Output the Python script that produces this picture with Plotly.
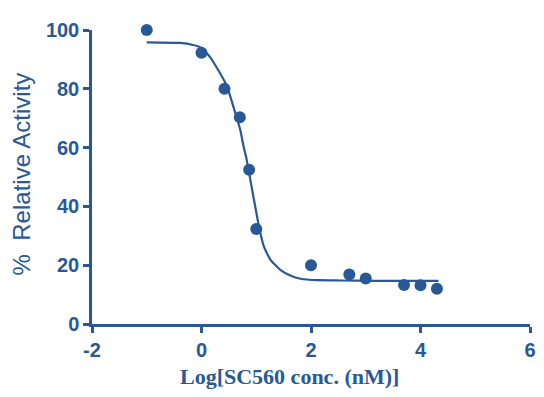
import plotly.graph_objects as go

# measured data points
log_conc = [-1.0, 0.0, 0.42, 0.70, 0.87, 1.0, 2.0, 2.7, 3.0, 3.7, 4.0, 4.3]
activity = [100.0, 92.3, 80.0, 70.3, 52.5, 32.3, 20.0, 16.8, 15.5, 13.3, 13.2, 12.0]

# fitted curve
curve_x = [-1.0, -0.4, -0.15, -0.02, 0.16, 0.31, 0.44, 0.53, 0.62, 0.71, 0.77, 0.82,
           0.86, 0.96, 1.05, 1.14, 1.26, 1.44, 1.63, 1.81, 2.12, 2.54, 3.2, 3.8, 4.33]
curve_y = [95.8, 95.6, 94.9, 94.1, 90.7, 86.2, 81.8, 77.2, 71.6, 65.9, 60.2, 56.4,
           52.3, 42.1, 33.1, 26.3, 21.8, 18.4, 16.4, 15.4, 14.9, 14.8, 14.7, 14.7, 14.7]

x_ticks = [-2, 0, 2, 4, 6]
y_ticks = [0, 20, 40, 60, 80, 100]

BLUE = "rgb(41,88,150)"

fig = go.Figure()
fig.add_trace(go.Scatter(x=curve_x, y=curve_y, mode="lines",
                         line=dict(color=BLUE, width=2.2, shape="spline", smoothing=0.4),
                         showlegend=False, hoverinfo="skip"))
fig.add_trace(go.Scatter(x=log_conc, y=activity, mode="markers",
                         marker=dict(color=BLUE, size=12, symbol="circle"),
                         showlegend=False, cliponaxis=False))

axis_common = dict(showline=True, linecolor=BLUE, linewidth=2.5, ticks="outside",
                   tickcolor=BLUE, tickwidth=2.5, ticklen=6, showgrid=False, zeroline=False,
                   automargin=False,
                   tickfont=dict(family="Liberation Sans, Arial", size=20, color=BLUE, weight="bold"))

fig.update_xaxes(range=[-2, 6], tickvals=x_ticks, ticktext=[str(v) for v in x_ticks], **axis_common)
fig.update_yaxes(range=[0, 100], tickvals=y_ticks, ticktext=[str(v) for v in y_ticks], **axis_common)

fig.update_layout(
    width=544, height=397,
    margin=dict(l=84, r=22, t=22, b=81),
    plot_bgcolor="white", paper_bgcolor="white",
    annotations=[
        dict(text="%  Relative Activity", textangle=-90, xref="paper", yref="paper",
             x=-0.16, y=0.512, xanchor="center", yanchor="middle", showarrow=False,
             font=dict(family="Liberation Sans, Arial", size=24, color=BLUE)),
        dict(text="<b>Log[SC560 conc. (nM)]</b>", xref="paper", yref="paper",
             x=0.45, y=-0.177, xanchor="center", yanchor="middle", showarrow=False,
             font=dict(family="Liberation Serif, Times New Roman", size=22, color=BLUE)),
    ],
)

fig.write_html("out.html")
